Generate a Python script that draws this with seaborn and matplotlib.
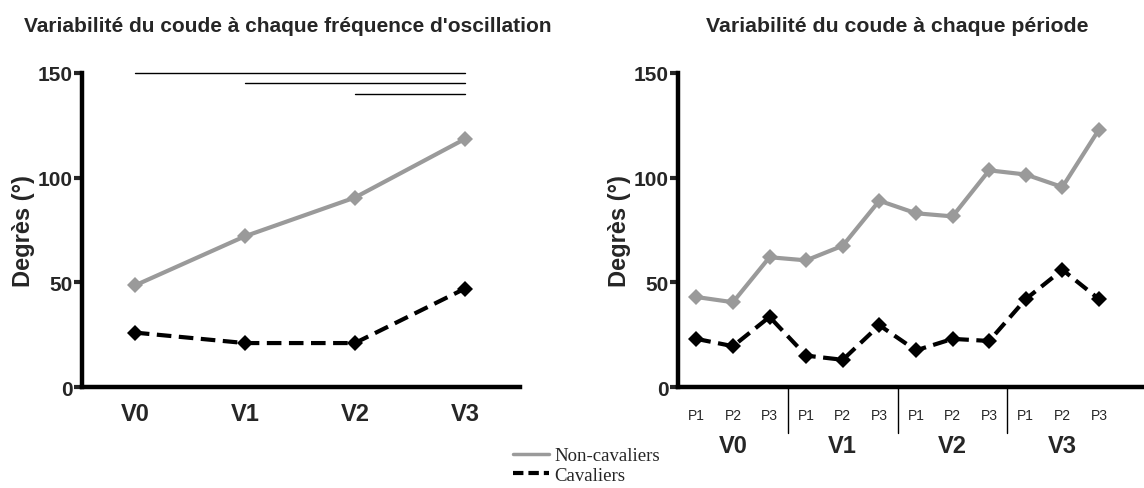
import pandas as pd
import matplotlib.pyplot as plt
import matplotlib.transforms as mtransforms
from matplotlib.lines import Line2D
import seaborn as sns

# -----------------------
# Data
# -----------------------

visits = ["V0", "V1", "V2", "V3"]
periods = ["P1", "P2", "P3"]
groups = ["Non-cavaliers", "Cavaliers"]

# variability per oscillation frequency
freq_non = [48.5, 72, 90.5, 118.5]
freq_cav = [26, 21, 21, 47]

# variability per period (V0 P1 ... V3 P3)
per_non = [43, 40.5, 62, 60.5, 67.5, 89, 83, 81.5, 103.5, 101.5, 95.5, 123]
per_cav = [23, 19.5, 33.5, 15, 13, 29.5, 17.5, 23, 22, 42, 56, 42]

# significance bars (from visit -> to visit, height)
sig_start = [0, 1, 2]
sig_end = [3, 3, 3]
sig_y = [150, 145, 140]

df_freq = pd.DataFrame({
    "x": list(range(len(visits))) * 2,
    "deg": freq_non + freq_cav,
    "groupe": [groups[0]] * 4 + [groups[1]] * 4,
})

n_per = len(per_non)
df_per = pd.DataFrame({
    "x": list(range(n_per)) * 2,
    "deg": per_non + per_cav,
    "groupe": [groups[0]] * n_per + [groups[1]] * n_per,
})

# -----------------------
# Style
# -----------------------

sns.set_style("ticks")
plt.rcParams["font.family"] = ["Liberation Sans", "DejaVu Sans"]

palette = {"Non-cavaliers": "#9a9a9a", "Cavaliers": "black"}
dashes = {"Non-cavaliers": "", "Cavaliers": (3.5, 1.8)}
markers = {"Non-cavaliers": "D", "Cavaliers": "D"}

fig = plt.figure(figsize=(11.44, 4.89), dpi=100)
ax1 = fig.add_axes([0.0717, 0.2065, 0.3828, 0.6422])
ax2 = fig.add_axes([0.5927, 0.2065, 0.4073, 0.6422])


def style_axis(ax):
    ax.set_ylim(0, 150)
    ax.set_yticks([0, 50, 100, 150])
    for s in ["top", "right"]:
        ax.spines[s].set_visible(False)
    for s in ["left", "bottom"]:
        ax.spines[s].set_linewidth(3.2)
        ax.spines[s].set_color("black")
    ax.tick_params(axis="y", length=6, width=3, labelsize=15, pad=1)
    for t in ax.get_yticklabels():
        t.set_fontweight("bold")
    ax.set_ylabel("Degrès (°)", fontsize=17, fontweight="bold")
    if ax.get_legend():
        ax.get_legend().remove()


# -----------------------
# Left: per frequency
# -----------------------

sns.lineplot(data=df_freq, x="x", y="deg", hue="groupe", style="groupe",
             palette=palette, dashes=dashes, markers=markers,
             linewidth=3, markersize=8, markeredgewidth=0, ax=ax1)
ax1.set_xlim(-0.48, 3.5)
style_axis(ax1)
ax1.set_xticks(range(len(visits)))
ax1.set_xticklabels(visits, fontsize=17, fontweight="bold")
ax1.tick_params(axis="x", length=0, pad=11)
ax1.set_xlabel("")
ax1.yaxis.set_label_coords(-0.108, 0.5)
ax1.set_title("Variabilité du coude à chaque fréquence d'oscillation",
              fontsize=15, fontweight="bold", pad=30, x=0.47)

for a, b, y in zip(sig_start, sig_end, sig_y):
    ax1.plot([a, b], [y, y], color="black", linewidth=1, clip_on=False)

# -----------------------
# Right: per period
# -----------------------

sns.lineplot(data=df_per, x="x", y="deg", hue="groupe", style="groupe",
             palette=palette, dashes=dashes, markers=markers,
             linewidth=3, markersize=8, markeredgewidth=0, ax=ax2)
ax2.set_xlim(-0.5, 12.23)
style_axis(ax2)
ax2.set_xticks(range(n_per))
ax2.set_xticklabels(periods * len(visits), fontsize=10)
ax2.tick_params(axis="x", length=0, pad=15)
ax2.set_xlabel("")
ax2.yaxis.set_label_coords(-0.1, 0.5)
ax2.set_title("Variabilité du coude à chaque période",
              fontsize=15.3, fontweight="bold", pad=30, x=0.47)

trans = mtransforms.blended_transform_factory(ax2.transData, ax2.transAxes)
for i in range(1, len(visits)):
    sep = i * len(periods) - 0.5
    ax2.plot([sep, sep], [0, -0.145], color="black", linewidth=1,
             transform=trans, clip_on=False)
for i, v in enumerate(visits):
    ax2.text(i * len(periods) + 1, -0.185, v, transform=trans,
             ha="center", va="center", fontsize=17, fontweight="bold")

# -----------------------
# Legend
# -----------------------

handles = [
    Line2D([], [], color=palette["Non-cavaliers"], linewidth=2.5),
    Line2D([], [], color="black", linewidth=3, dashes=(2.5, 1.2)),
]
fig.legend(handles, groups, loc="lower left", bbox_to_anchor=(0.437, -0.018),
           frameon=False, handlelength=1.9, handletextpad=0.3,
           labelspacing=0.12, borderpad=0.2,
           prop={"family": "Liberation Serif", "size": 13.5})

plt.savefig("out.png", dpi=100)
